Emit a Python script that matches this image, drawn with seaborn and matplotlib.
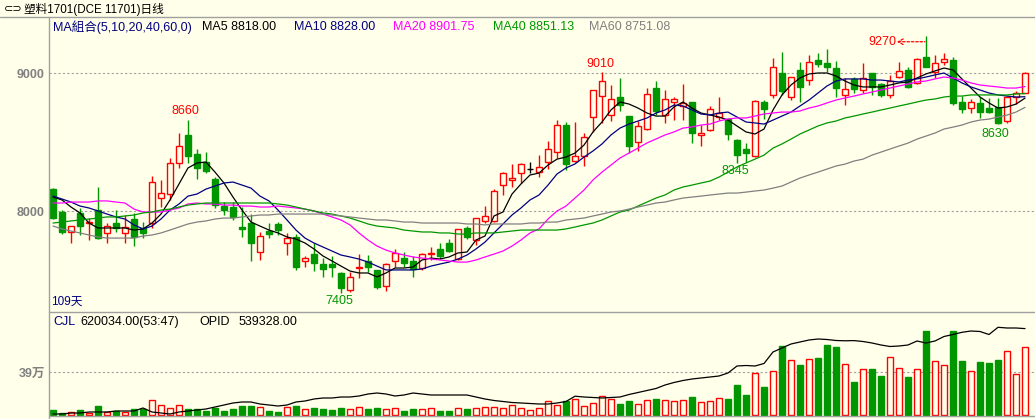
import numpy as np
import pandas as pd
import matplotlib
matplotlib.use("Agg")
import matplotlib.pyplot as plt
from matplotlib.lines import Line2D
from matplotlib.transforms import offset_copy
import seaborn as sns

# daily bars of 塑料1701 (109 days)
opens = [8159, 7993, 7848, 7986, 7913, 8007, 7841, 7913, 7841, 7942,
         7877, 7913, 8094, 8123, 8348, 8551, 8413, 8355, 8232, 8036,
         8029, 7884, 7913, 7703, 7855, 7906, 7768, 7812, 7638, 7688,
         7616, 7616, 7551, 7428, 7587, 7638, 7573, 7457, 7638, 7659,
         7638, 7587, 7688, 7725, 7768, 7652, 7877, 7790, 7928, 7928,
         8188, 8225, 8275, 8304, 8283, 8355, 8428, 8623, 8362, 8399,
         8681, 8833, 8696, 8826, 8688, 8500, 8594, 8891, 8696, 8790,
         8761, 8790, 8551, 8587, 8681, 8667, 8515, 8449, 8399, 8790,
         8841, 9000, 8826, 9022, 8949, 9094, 9072, 9036, 8841, 8957,
         8877, 9000, 8920, 8841, 8971, 9022, 8928, 9116, 9007, 9080,
         9094, 8790, 8746, 8783, 8746, 8754, 8652, 8826, 8855]
highs = [8165, 8007, 7891, 8022, 7949, 8174, 7913, 8007, 7971, 7986,
         7920, 8254, 8225, 8384, 8565, 8660, 8449, 8428, 8246, 8065,
         8065, 8029, 7980, 7848, 7913, 7920, 7841, 7833, 7674, 7768,
         7659, 7674, 7558, 7558, 7688, 7681, 7573, 7623, 7725, 7703,
         7674, 7696, 7739, 7768, 7800, 7870, 7891, 7949, 8036, 8159,
         8283, 8341, 8348, 8355, 8406, 8507, 8659, 8645, 8645, 8565,
         8877, 9010, 8913, 8964, 8688, 8652, 8891, 8942, 8877, 8826,
         8920, 8790, 8623, 8761, 8826, 8667, 8522, 8493, 8804, 8804,
         9109, 9152, 8971, 9080, 9130, 9145, 9174, 9087, 8964, 8971,
         9072, 9000, 8928, 8986, 9080, 9043, 9109, 9270, 9130, 9145,
         9116, 8833, 8812, 8826, 8819, 8819, 8833, 8870, 9007]
lows = [7940, 7833, 7768, 7826, 7790, 7797, 7768, 7848, 7768, 7746,
        7804, 7877, 8029, 8080, 8312, 8348, 8232, 8275, 8022, 7971,
        7935, 7812, 7638, 7645, 7804, 7826, 7681, 7573, 7594, 7565,
        7522, 7522, 7405, 7413, 7515, 7558, 7435, 7420, 7594, 7594,
        7522, 7573, 7645, 7652, 7703, 7645, 7797, 7754, 7913, 7920,
        8116, 8174, 8203, 8275, 8246, 8304, 8384, 8297, 8355, 8326,
        8573, 8638, 8652, 8725, 8420, 8435, 8587, 8696, 8638, 8659,
        8659, 8493, 8471, 8580, 8659, 8515, 8345, 8355, 8391, 8667,
        8819, 8841, 8804, 8790, 8913, 9043, 9007, 8826, 8768, 8855,
        8855, 8841, 8826, 8819, 8964, 8891, 8920, 9043, 8964, 9058,
        8768, 8710, 8710, 8674, 8710, 8630, 8638, 8775, 8855]
closes = [7949, 7848, 7891, 7891, 7920, 7804, 7891, 7877, 7884, 7812,
          7841, 8210, 8131, 8348, 8471, 8399, 8312, 8290, 8044, 8007,
          7957, 7870, 7768, 7819, 7833, 7862, 7804, 7594, 7659, 7623,
          7580, 7594, 7442, 7522, 7594, 7594, 7449, 7616, 7696, 7623,
          7580, 7688, 7696, 7674, 7710, 7870, 7812, 7949, 7964, 8145,
          8275, 8239, 8341, 8304, 8319, 8449, 8623, 8341, 8399, 8536,
          8877, 8942, 8812, 8768, 8471, 8616, 8848, 8725, 8812, 8812,
          8783, 8565, 8565, 8739, 8710, 8558, 8406, 8420, 8797, 8739,
          9043, 8870, 8971, 8899, 9080, 9065, 9043, 8891, 8884, 8884,
          8964, 8899, 8841, 8942, 9015, 8899, 9101, 9043, 9072, 9101,
          8783, 8739, 8790, 8717, 8717, 8638, 8826, 8855, 9000]

ma5 = [8101, 8080, 8029, 7986, 7913, 7877, 7877, 7877, 7877, 7862,
       7870, 7913, 7978, 8080, 8196, 8312, 8348, 8355, 8282, 8203,
       8101, 8007, 7920, 7891, 7862, 7841, 7812, 7797, 7768, 7725,
       7674, 7638, 7601, 7565, 7551, 7551, 7522, 7551, 7587, 7587,
       7594, 7645, 7659, 7652, 7667, 7696, 7703, 7790, 7819, 7964,
       7993, 8123, 8196, 8261, 8275, 8333, 8376, 8391, 8420, 8478,
       8573, 8645, 8732, 8790, 8775, 8746, 8710, 8688, 8688, 8754,
       8790, 8746, 8710, 8696, 8681, 8659, 8616, 8573, 8558, 8594,
       8732, 8841, 8913, 8964, 8993, 9000, 9000, 8978, 8942, 8913,
       8899, 8899, 8899, 8913, 8928, 8935, 8964, 8993, 9015, 9036,
       9022, 8957, 8891, 8826, 8783, 8746, 8754, 8775, 8818]
ma10 = [8108, 8087, 8065, 8036, 8022, 8000, 7978, 7957, 7942, 7899,
        7870, 7891, 7942, 8007, 8051, 8108, 8123, 8159, 8181, 8203,
        8210, 8188, 8166, 8108, 8073, 8007, 7935, 7862, 7804, 7768,
        7739, 7710, 7681, 7667, 7652, 7630, 7601, 7573, 7573, 7573,
        7573, 7580, 7601, 7616, 7630, 7652, 7681, 7725, 7775, 7841,
        7906, 7971, 8022, 8080, 8116, 8188, 8268, 8312, 8341, 8391,
        8435, 8486, 8551, 8601, 8630, 8652, 8674, 8710, 8732, 8768,
        8761, 8732, 8703, 8696, 8710, 8717, 8681, 8645, 8638, 8630,
        8659, 8688, 8717, 8761, 8804, 8855, 8906, 8942, 8957, 8957,
        8957, 8949, 8949, 8942, 8935, 8949, 8957, 8971, 8986, 9000,
        8964, 8928, 8899, 8877, 8855, 8841, 8833, 8826, 8828]
ma20 = [8058, 8058, 8065, 8065, 8065, 8073, 8073, 8065, 8058, 8014,
        7993, 7993, 7993, 8007, 8022, 8051, 8058, 8051, 8051, 8043,
        8043, 8036, 8036, 8029, 8029, 8036, 8029, 8022, 8014, 8000,
        7978, 7957, 7935, 7899, 7841, 7790, 7746, 7717, 7696, 7681,
        7667, 7659, 7652, 7645, 7638, 7630, 7630, 7645, 7667, 7688,
        7710, 7746, 7790, 7841, 7870, 7942, 8000, 8036, 8094, 8152,
        8225, 8282, 8333, 8384, 8420, 8456, 8493, 8522, 8551, 8573,
        8601, 8609, 8623, 8630, 8652, 8667, 8674, 8674, 8688, 8703,
        8710, 8717, 8717, 8725, 8746, 8761, 8783, 8804, 8819, 8833,
        8848, 8862, 8877, 8891, 8906, 8920, 8935, 8942, 8957, 8971,
        8964, 8949, 8928, 8913, 8906, 8899, 8891, 8891, 8902]
ma40 = [7913, 7920, 7928, 7935, 7942, 7949, 7957, 7957, 7964, 7971,
        7986, 7993, 8007, 8014, 8029, 8043, 8051, 8058, 8058, 8058,
        8058, 8058, 8058, 8058, 8058, 8051, 8043, 8029, 8014, 8000,
        7986, 7978, 7964, 7949, 7928, 7906, 7891, 7884, 7877, 7862,
        7855, 7848, 7848, 7841, 7841, 7833, 7833, 7841, 7841, 7841,
        7848, 7855, 7862, 7862, 7862, 7862, 7862, 7870, 7884, 7899,
        7913, 7935, 7964, 7993, 8007, 8036, 8065, 8094, 8116, 8152,
        8174, 8188, 8203, 8217, 8246, 8282, 8319, 8348, 8376, 8405,
        8456, 8486, 8521, 8558, 8587, 8616, 8638, 8652, 8674, 8688,
        8703, 8717, 8732, 8746, 8761, 8775, 8790, 8804, 8812, 8826,
        8833, 8833, 8841, 8841, 8841, 8841, 8841, 8848, 8851]
ma60 = [7891, 7870, 7855, 7841, 7826, 7812, 7804, 7804, 7804, 7804,
        7819, 7826, 7841, 7862, 7884, 7906, 7920, 7928, 7942, 7949,
        7949, 7957, 7964, 7971, 7971, 7978, 7978, 7978, 7978, 7978,
        7978, 7971, 7964, 7957, 7949, 7942, 7935, 7935, 7928, 7920,
        7920, 7913, 7913, 7913, 7913, 7913, 7906, 7906, 7899, 7906,
        7906, 7906, 7906, 7913, 7913, 7920, 7920, 7935, 7942, 7949,
        7964, 7978, 7993, 8000, 8014, 8029, 8043, 8058, 8065, 8080,
        8094, 8101, 8108, 8116, 8123, 8130, 8130, 8137, 8145, 8152,
        8166, 8181, 8210, 8239, 8261, 8282, 8304, 8326, 8340, 8362,
        8376, 8405, 8427, 8449, 8471, 8492, 8521, 8543, 8565, 8594,
        8608, 8623, 8645, 8659, 8666, 8681, 8695, 8717, 8751]

# 成交量 (CJL) and open interest (OPID)
volume = [45000, 15000, 24000, 45000, 15000, 82000, 24000, 39000, 30000, 51000,
          57000, 136000, 88000, 60000, 88000, 51000, 51000, 39000, 67000, 36000,
          54000, 82000, 82000, 70000, 36000, 27000, 70000, 82000, 54000, 60000,
          54000, 45000, 63000, 54000, 70000, 54000, 63000, 54000, 60000, 36000,
          54000, 54000, 60000, 36000, 36000, 60000, 54000, 60000, 70000, 70000,
          60000, 88000, 60000, 45000, 60000, 127000, 91000, 127000, 142000, 82000,
          106000, 169000, 145000, 100000, 127000, 97000, 136000, 145000, 136000, 127000,
          136000, 163000, 115000, 127000, 151000, 145000, 272000, 181000, 381000, 254000,
          399000, 626000, 496000, 453000, 505000, 517000, 635000, 617000, 459000, 299000,
          414000, 417000, 354000, 523000, 423000, 345000, 414000, 762000, 487000, 450000,
          762000, 490000, 396000, 481000, 472000, 499000, 577000, 372000, 620034]
opid = [214800, 214800, 218600, 218600, 222400, 222400, 222400, 226200, 226200, 226200,
        237600, 222400, 218600, 214800, 222400, 226200, 230000, 233800, 241400, 249000,
        256600, 260400, 260400, 252800, 249000, 245200, 249000, 260400, 264200, 271800,
        275600, 275600, 279400, 279400, 283200, 290800, 294600, 290800, 283200, 287000,
        294600, 290800, 287000, 287000, 287000, 287000, 287000, 279400, 271800, 266100,
        262300, 258500, 256600, 254700, 252800, 252800, 256600, 262300, 282400, 279400,
        277500, 275600, 277500, 279400, 288900, 296500, 304100, 311700, 325000, 334500,
        342100, 347800, 351600, 355400, 359200, 370600, 397200, 399100, 397200, 406700,
        450400, 465600, 480800, 488400, 496000, 499800, 497900, 494100, 493000, 493700,
        490300, 484600, 477000, 471300, 473200, 477000, 492200, 484600, 492200, 509300,
        516900, 525300, 530200, 528300, 516900, 544300, 541600, 541600, 539328]

BG = "#FFFFEA"
RED = "#FF0000"
GREEN = "#009600"
GRID = "#A0A0A0"
NAVY = "#000080"
ma_colors = {"MA5": "black", "MA10": NAVY, "MA20": "#FF00FF", "MA40": "#009600", "MA60": "#808080"}

df = pd.DataFrame({"open": opens, "high": highs, "low": lows, "close": closes,
                   "vol": volume, "opid": opid,
                   "MA5": ma5, "MA10": ma10, "MA20": ma20, "MA40": ma40, "MA60": ma60})
df["day"] = np.arange(len(df))
up = df["close"] > df["open"]
down = df["close"] < df["open"]
edge = np.where(up, RED, np.where(down, GREEN, "black"))
face = np.where(down, GREEN, BG)
vol_edge = np.where(down, GREEN, RED)
body_lo = df[["open", "close"]].min(axis=1)
body_hi = df[["open", "close"]].max(axis=1)

sns.set_style("white", {"axes.facecolor": BG, "figure.facecolor": BG})
plt.rcParams["font.family"] = ["Liberation Sans", "Noto Sans CJK SC"]

W, H = 1035, 419
fig = plt.figure(figsize=(W / 100, H / 100), dpi=100, facecolor=BG)
ax = fig.add_axes([49 / W, 1 - 312 / H, (W - 49) / W, (312 - 18) / H])
axv = fig.add_axes([49 / W, 0, (W - 49) / W, (419 - 312) / H], sharex=ax)

# candles
ax.vlines(df["day"], body_hi, df["high"], colors=edge, lw=1.0, zorder=2)
ax.vlines(df["day"], df["low"], body_lo, colors=edge, lw=1.0, zorder=2)
ax.bar(df["day"], body_hi - body_lo, bottom=body_lo, width=0.72,
       color=face, edgecolor=edge, linewidth=1.0, zorder=2)

for name, c in ma_colors.items():
    sns.lineplot(data=df, x="day", y=name, ax=ax, color=c, lw=0.9,
                 estimator=None, sort=False, zorder=3)

ax.set_xlim(-4 / 9, -4 / 9 + (W - 49) / 9)
ax.set_ylim(9529 - 7.246 * 312, 9529 - 7.246 * 18)
ax.set_yticks([8000, 9000])
ax.set_yticklabels(["8000", "9000"])
ax.grid(axis="y", color=GRID, ls=(0, (2, 2)), lw=0.8)
ax.grid(axis="x", visible=False)
ax.set_xticks([])
ax.set_xlabel("")
ax.set_ylabel("")
ax.tick_params(axis="y", length=0, pad=3, labelsize=9, labelcolor="#808080")
for t in ax.get_yticklabels():
    t.set_fontweight("bold")
for s in ax.spines.values():
    s.set_visible(False)

# high / low marks
def mark(i, price, dx, dy, color):
    ax.annotate(str(price), xy=(i, price), xytext=(dx, dy), textcoords="offset pixels",
                ha="center", va="center", color=color, fontsize=9)

mark(15, highs[15], -3, 9, RED)
mark(61, highs[61], -2, 8, RED)
mark(32, lows[32], -2, -8, GREEN)
mark(76, lows[76], -2, -8, GREEN)
mark(105, lows[105], -3, -10, GREEN)
mark(97, highs[97], -44, -6, RED)
tr = offset_copy(ax.transData, fig=fig, x=-1, y=-6, units="dots")
ax.annotate("", xy=(97, highs[97]), xycoords=tr, xytext=(-28, 0), textcoords="offset pixels",
            arrowprops=dict(arrowstyle="<-,head_length=0.35,head_width=0.2", color=RED,
                            lw=0.9, ls=(0, (2, 1.5)), shrinkA=0, shrinkB=0))

# volume panel
axv.bar(df["day"], df["vol"], width=0.74, color=np.where(down, GREEN, BG),
        edgecolor=vol_edge, linewidth=1.0, zorder=2)
axv.set_ylim(-4 * 9070, 103 * 9070)
axv.set_yticks([390000])
axv.set_yticklabels(["39万"])
axv.grid(axis="y", color=GRID, ls=(0, (2, 2)), lw=0.8)
axv.grid(axis="x", visible=False)
axv.set_xticks([])
axv.set_xlabel("")
axv.tick_params(axis="y", length=0, pad=3, labelsize=9, labelcolor="#808080")
for t in axv.get_yticklabels():
    t.set_fontweight("bold")
for s in axv.spines.values():
    s.set_visible(False)

axo = axv.twinx()
sns.lineplot(data=df, x="day", y="opid", ax=axo, color="black", lw=0.9,
             estimator=None, sort=False, zorder=3)
axo.set_ylim(211000 - 4 * 3800, 211000 + 103 * 3800)
axo.set_yticks([])
axo.set_ylabel("")
axo.set_xticks([])
axo.set_xlabel("")
for s in axo.spines.values():
    s.set_visible(False)

# frame lines
for xs, ys in [([0, 1], [1 - 17.5 / H] * 2),
               ([49 / W] * 2, [0, 1 - 17.5 / H]),
               ([49 / W, 1], [1 - 312 / H] * 2),
               ([49 / W, 1], [1 - 416 / H] * 2)]:
    fig.add_artist(Line2D(xs, ys, color=GRID, lw=1.0))

def ftext(x, y, s, color="black", size=9, **kw):
    fig.text(x / W, 1 - y / H, s, color=color, fontsize=size, va="center", ha="left", **kw)

ftext(4, 9, "⊂⊃", size=8, family="DejaVu Sans")
ftext(24, 9.5, "塑料1701(DCE 11701)日线", size=8.4)
ftext(53, 27, "MA組合(5,10,20,40,60,0)", NAVY)
ftext(202, 27, "MA5 8818.00", "black")
ftext(294, 27, "MA10 8828.00", NAVY)
ftext(393, 27, "MA20 8901.75", "#FF00FF")
ftext(493, 27, "MA40 8851.13", "#009600")
ftext(589, 27, "MA60 8751.08", "#808080")
ftext(51, 302, "109天", NAVY, size=8.5)
ftext(53, 322, "CJL", NAVY)
ftext(80, 322, "620034.00(53:47)", "black")
ftext(199, 322, "OPID", "black")
ftext(239, 322, "539328.00", "black")

fig.savefig("out.png", dpi=100, facecolor=BG)
